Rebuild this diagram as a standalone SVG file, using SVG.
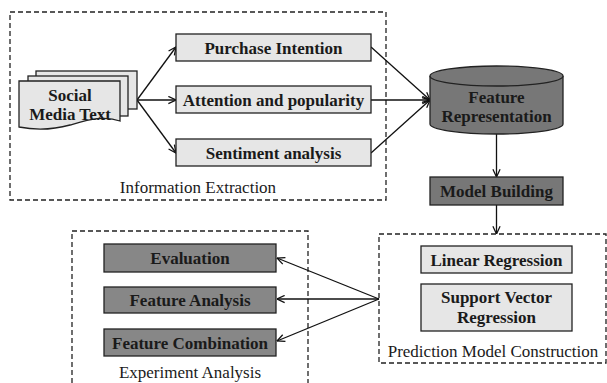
<svg xmlns="http://www.w3.org/2000/svg" width="607" height="383" viewBox="0 0 607 383">
<style>
text{font-family:"Liberation Serif","Times New Roman",serif;fill:#1a1a1a;text-anchor:middle}
.b{font-weight:bold;font-size:17px}
.l{font-size:17px}
.light{fill:#e6e6e6;stroke:#222;stroke-width:1.3}
.dark{fill:#878787;stroke:#222;stroke-width:1.3}
.mid{fill:#777;stroke:#222;stroke-width:1.3}
.dash{fill:none;stroke:#222;stroke-width:1.3;stroke-dasharray:5,3}
.c{fill:none;stroke:#111;stroke-width:1.3;marker-end:url(#ah)}
</style>
<defs>
<marker id="ah" viewBox="0 0 10 10" refX="9.5" refY="5" markerWidth="9" markerHeight="9" markerUnits="userSpaceOnUse" orient="auto">
<path d="M1,1 L9.5,5 L1,9" fill="none" stroke="#111" stroke-width="1.4"/>
</marker>
</defs>
<g id="groups">
<rect id="info-extraction" class="dash" x="10" y="12" width="376" height="188"/>
<rect id="experiment-analysis" class="dash" x="72" y="231" width="236" height="160"/>
<rect id="prediction-model" class="dash" x="379" y="234" width="227" height="129"/>
<text class="l" x="198" y="193">Information Extraction</text>
<text class="l" x="190" y="378">Experiment Analysis</text>
<text class="l" x="493" y="357">Prediction Model Construction</text>
</g>
<g id="connectors">
<path class="c" d="M137,100 L176,47"/>
<path class="c" d="M137,100 L176,100"/>
<path class="c" d="M137,100 L176,153"/>
<path class="c" d="M371,47 L430,100"/>
<path class="c" d="M371,100 L430,100"/>
<path class="c" d="M371,153 L430,100"/>
<path class="c" d="M496.5,134 L496.5,177"/>
<path class="c" d="M496.5,205 L496.5,234"/>
<path class="c" d="M379,299 L277,258"/>
<path class="c" d="M379,299 L277,299"/>
<path class="c" d="M379,299 L277,341"/>
</g>
<g id="social-media-text">
<rect class="light" x="36" y="71" width="101" height="38"/>
<rect class="light" x="28" y="76" width="100" height="40"/>
<path class="light" d="M19,81 H120 V121 C104,115 88,120 70,125 C52,130 34,130 19,127 Z"/>
<text class="b" x="70" y="101">Social</text>
<text class="b" x="70" y="120">Media Text</text>
</g>
<g id="purchase-intention">
<rect class="light" x="176" y="34" width="195" height="27"/>
<text class="b" x="273.5" y="53.5">Purchase Intention</text>
</g>
<g id="attention-popularity">
<rect class="light" x="176" y="86" width="195" height="27"/>
<text class="b" x="273.5" y="105.5">Attention and popularity</text>
</g>
<g id="sentiment-analysis">
<rect class="light" x="176" y="139" width="195" height="27"/>
<text class="b" x="273.5" y="158.5">Sentiment analysis</text>
</g>
<g id="feature-representation">
<path class="mid" d="M430,76 V124 A66.5,10 0 0 0 563,124 V76"/>
<ellipse class="mid" cx="496.5" cy="76" rx="66.5" ry="10"/>
<text class="b" x="496.5" y="103">Feature</text>
<text class="b" x="496.5" y="122">Representation</text>
</g>
<g id="model-building">
<rect class="mid" x="430" y="177" width="133" height="28"/>
<text class="b" x="496.5" y="197">Model Building</text>
</g>
<g id="linear-regression">
<rect class="light" x="421" y="246" width="151" height="27"/>
<text class="b" x="496.5" y="265.5">Linear Regression</text>
</g>
<g id="svr">
<rect class="light" x="421" y="284" width="151" height="47"/>
<text class="b" x="496.5" y="303">Support Vector</text>
<text class="b" x="496.5" y="323">Regression</text>
</g>
<g id="evaluation">
<rect class="dark" x="104" y="244" width="172" height="28"/>
<text class="b" x="190" y="264">Evaluation</text>
</g>
<g id="feature-analysis">
<rect class="dark" x="104" y="287" width="172" height="26"/>
<text class="b" x="190" y="306">Feature Analysis</text>
</g>
<g id="feature-combination">
<rect class="dark" x="104" y="329" width="172" height="27"/>
<text class="b" x="190" y="348.5">Feature Combination</text>
</g>
</svg>
